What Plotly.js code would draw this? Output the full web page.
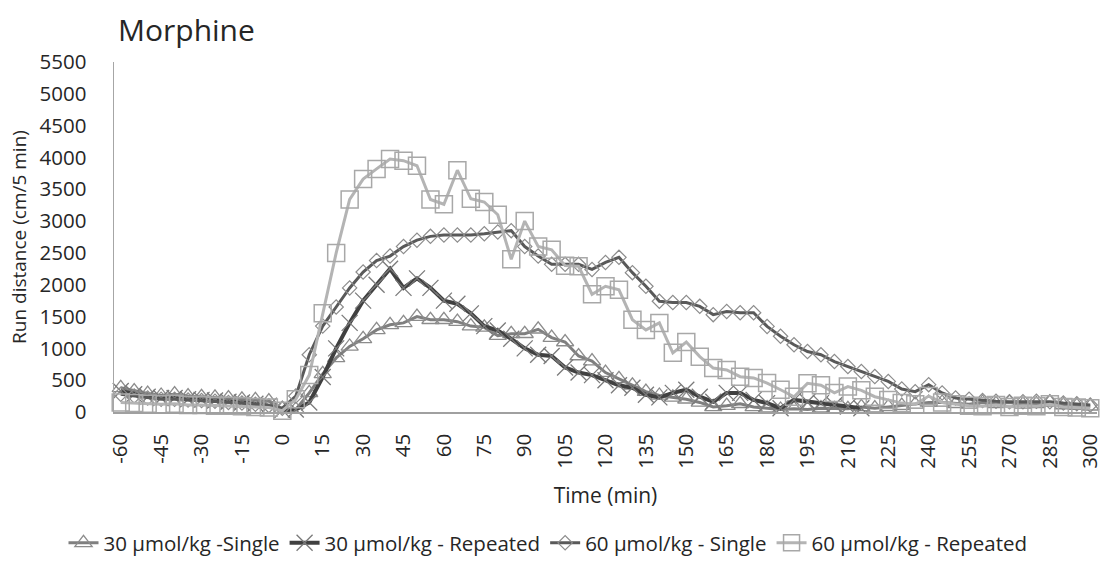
<!DOCTYPE html>
<html>
<head>
<meta charset="utf-8">
<script src="https://cdn.plot.ly/plotly-3.0.1.min.js"></script>
<style>
  html, body { margin: 0; padding: 0; background: #fff; }
  #chart { width: 1103px; height: 583px; }
</style>
</head>
<body>
<div id="chart"></div>
<script>
// time points (min), one every 5 minutes
const times = [-60, -55, -50, -45, -40, -35, -30, -25, -20, -15, -10, -5,
  0, 5, 10, 15, 20, 25, 30, 35, 40, 45, 50, 55, 60, 65, 70, 75, 80, 85, 90, 95,
  100, 105, 110, 115, 120, 125, 130, 135, 140, 145, 150, 155, 160, 165, 170, 175,
  180, 185, 190, 195, 200, 205, 210, 215, 220, 225, 230, 235, 240, 245, 250, 255,
  260, 265, 270, 275, 280, 285, 290, 295, 300];

// labelled ticks on the time axis (plain hyphen as in the original)
const tickTimes = [-60, -45, -30, -15, 0, 15, 30, 45, 60, 75, 90, 105, 120, 135,
  150, 165, 180, 195, 210, 225, 240, 255, 270, 285, 300];
const tickLabels = ['-60', '-45', '-30', '-15', '0', '15', '30', '45', '60', '75', '90', '105', '120', '135',
  '150', '165', '180', '195', '210', '225', '240', '255', '270', '285', '300'];

// run distance (cm/5 min)
const single30 = [380, 330, 290, 260, 280, 250, 240, 230, 220, 200, 190, 170,
  50, 40, 300, 600, 850, 1030, 1150, 1290, 1370, 1400, 1500, 1450, 1450, 1420, 1350, 1330, 1200, 1230, 1230, 1300,
  1170, 1100, 880, 800, 620, 520, 420, 320, 260, 230, 200, 150, 80, 100, 130, 80,
  60, 40, 50, 40, 60, 50, 50, 80, 60, 80, 100, 120, 150, 150, 130, 120,
  150, 130, 150, 120, 130, 150, 110, 100, 90];

const repeated30 = [330, 280, 240, 220, 220, 200, 190, 180, 160, 150, 130, 100,
  30, 40, 150, 550, 1000, 1400, 1750, 2000, 2250, 1950, 2100, 1950, 1750, 1700, 1550, 1350, 1280, 1150, 1000, 900,
  880, 700, 620, 580, 500, 420, 380, 270, 230, 300, 350, 240, 160, 300, 300, 190,
  140, 60, 190, 160, 140, 110, 85, 60];

const single60 = [280, 250, 220, 200, 200, 190, 180, 170, 150, 140, 120, 100,
  60, 250, 900, 1350, 1650, 1950, 2200, 2380, 2450, 2600, 2700, 2760, 2780, 2780, 2780, 2800, 2830, 2850, 2600, 2450,
  2320, 2320, 2320, 2240, 2350, 2430, 2190, 1975, 1740, 1720, 1720, 1660, 1530, 1580, 1560, 1560,
  1345, 1190, 1057, 950, 900, 793, 715, 636, 557, 480, 360, 320, 430, 300, 220, 200,
  180, 170, 160, 160, 170, 160, 140, 130, 110];

const repeated60 = [150, 140, 130, 120, 130, 110, 110, 100, 100, 90, 80, 70,
  20, 200, 580, 1550, 2500, 3340, 3660, 3820, 3975, 3950, 3870, 3340, 3265, 3800, 3350, 3300, 3100, 2400, 3000, 2600,
  2550, 2300, 2290, 1850, 1975, 1920, 1450, 1290, 1400, 930, 1100, 870, 690, 660, 555, 535,
  455, 350, 240, 450, 420, 300, 400, 340, 240, 190, 140, 120, 250, 150, 120, 100,
  90, 110, 80, 100, 90, 120, 80, 70, 60];

const seriesNames = ['30 µmol/kg -Single', '30 µmol/kg - Repeated', '60 µmol/kg - Single', '60 µmol/kg - Repeated'];

const font = 'Open Sans, Noto Sans, sans-serif';
const textColor = '#262626';

const traces = [
  {
    x: times, y: single30, name: seriesNames[0], mode: 'lines+markers', cliponaxis: false,
    line: { color: '#7f7f7f', width: 3 },
    marker: { symbol: 'triangle-up-open', size: 15, color: '#8c8c8c', line: { width: 1.3 } }
  },
  {
    x: times.slice(0, repeated30.length), y: repeated30, name: seriesNames[1], mode: 'lines+markers', cliponaxis: false,
    line: { color: '#404040', width: 4 },
    marker: { symbol: 'x-thin-open', size: 16, color: '#7a7a7a', line: { width: 1.3 } }
  },
  {
    x: times, y: single60, name: seriesNames[2], mode: 'lines+markers', cliponaxis: false,
    line: { color: '#595959', width: 3 },
    marker: { symbol: 'diamond-open', size: 11, color: '#8c8c8c', line: { width: 1.2 } }
  },
  {
    x: times, y: repeated60, name: seriesNames[3], mode: 'lines+markers', cliponaxis: false,
    line: { color: '#b4b4b4', width: 3 },
    marker: { symbol: 'square-open', size: 17, color: '#a8a8a8', line: { width: 1.5 } }
  }
];

const layout = {
  width: 1103,
  height: 583,
  margin: { l: 114, r: 6, t: 62, b: 171 },
  paper_bgcolor: '#ffffff',
  plot_bgcolor: '#ffffff',
  font: { family: font, size: 20, color: textColor },
  title: {
    text: 'Morphine',
    font: { family: font, size: 30, color: textColor },
    x: 118 / 1103, xanchor: 'left', xref: 'container',
    y: 1 - 30 / 583, yanchor: 'middle', yref: 'container'
  },
  xaxis: {
    range: [-62.5, 302.5],
    tickmode: 'array', tickvals: tickTimes, ticktext: tickLabels,
    tickangle: -90,
    showgrid: false, zeroline: false,
    showline: true, linecolor: '#a0a0a0', linewidth: 1.5,
    ticks: '', ticklabelstandoff: 12, ticklabeloverflow: 'allow',
    tickfont: { size: 20.5, color: textColor },
    title: { text: 'Time (min)', standoff: 20, font: { size: 21, color: textColor } }
  },
  yaxis: {
    range: [0, 5500],
    dtick: 500,
    showgrid: false, zeroline: false,
    showline: true, linecolor: '#a6a6a6', linewidth: 1.5,
    ticks: '', ticklabelstandoff: 22,
    tickfont: { size: 20.5, color: textColor },
    title: { text: 'Run distance (cm/5 min)', standoff: 8, font: { size: 19, color: textColor } }
  },
  showlegend: true,
  legend: {
    orientation: 'h',
    x: (548 - 114) / 983, xanchor: 'center',
    y: (412 - 543) / 350, yanchor: 'middle',
    font: { size: 20.5, color: textColor },
    itemwidth: 30,
    tracegroupgap: 0
  }
};

Plotly.newPlot('chart', traces, layout, { displayModeBar: false, staticPlot: true });
</script>
</body>
</html>
